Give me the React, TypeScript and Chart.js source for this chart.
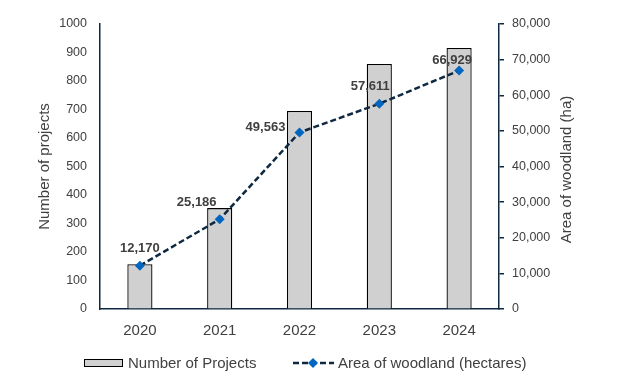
import React, { useEffect, useRef } from "react";
import { Chart, registerables } from "chart.js";

Chart.register(...registerables);

const years = ["2020", "2021", "2022", "2023", "2024"];
const projects = [157, 354, 695, 860, 916];
const woodland = [12170, 25186, 49563, 57611, 66929];
const projectTicks = { min: 0, max: 1000, step: 100 };
const woodlandTicks = { min: 0, max: 80000, step: 10000 };

const NAVY = "#0E2841";
const MARKER = "#0066C0";
const TEXT = "#404040";
const FONT = "'Liberation Sans', Arial, sans-serif";

const fmt = (v: number) => v.toLocaleString("en-US");

const labelOffsets = [
  [0, -17],
  [-23, -17],
  [-34, -5],
  [-9, -17],
  [-7, -10],
];

const decorPlugin = {
  id: "decor",
  afterDatasetsDraw(chart: any) {
    const ctx = chart.ctx;
    const meta = chart.getDatasetMeta(1);
    ctx.save();
    ctx.font = `bold 13px ${FONT}`;
    ctx.fillStyle = TEXT;
    ctx.textAlign = "center";
    ctx.textBaseline = "middle";
    meta.data.forEach((pt: any, i: number) => {
      const [dx, dy] = labelOffsets[i];
      ctx.fillText(fmt(woodland[i]), pt.x + dx, pt.y + dy);
    });
    ctx.restore();
  },
  afterDraw(chart: any) {
    const ctx = chart.ctx;
    const area = chart.chartArea;
    const cy = (area.top + area.bottom) / 2;
    ctx.save();
    ctx.font = `15px ${FONT}`;
    ctx.fillStyle = TEXT;
    ctx.textAlign = "center";
    ctx.textBaseline = "middle";
    ctx.save();
    ctx.translate(45, cy);
    ctx.rotate(-Math.PI / 2);
    ctx.fillText("Number of projects", 0, 0);
    ctx.restore();
    ctx.save();
    ctx.translate(567, cy + 3);
    ctx.rotate(-Math.PI / 2);
    ctx.fillText("Area of woodland (ha)", 0, 0);
    ctx.restore();

    const ly = 363;
    ctx.fillStyle = "#D0D0D0";
    ctx.fillRect(84, ly - 4, 39, 8);
    ctx.strokeStyle = "#000";
    ctx.lineWidth = 1;
    ctx.strokeRect(84.5, ly - 3.5, 38, 7);
    ctx.fillStyle = TEXT;
    ctx.textAlign = "left";
    ctx.fillText("Number of Projects", 128, ly + 1);

    ctx.strokeStyle = NAVY;
    ctx.lineWidth = 2.5;
    ctx.setLineDash([6, 3]);
    ctx.beginPath();
    ctx.moveTo(293, ly);
    ctx.lineTo(334, ly);
    ctx.stroke();
    ctx.setLineDash([]);
    ctx.fillStyle = MARKER;
    ctx.beginPath();
    ctx.moveTo(313, ly - 5);
    ctx.lineTo(318, ly);
    ctx.lineTo(313, ly + 5);
    ctx.lineTo(308, ly);
    ctx.closePath();
    ctx.fill();
    ctx.fillStyle = TEXT;
    ctx.fillText("Area of woodland (hectares)", 338, ly + 1);
    ctx.restore();
  },
};

export default function App() {
  const ref = useRef<HTMLCanvasElement | null>(null);
  useEffect(() => {
    if (!ref.current) return;
    const chart = new Chart(ref.current, {
      type: "bar",
      data: {
        labels: years,
        datasets: [
          {
            type: "bar",
            label: "Number of Projects",
            data: projects,
            yAxisID: "y",
            backgroundColor: "#D0D0D0",
            borderColor: "#000000",
            borderWidth: 1.3,
            barPercentage: 0.315,
            categoryPercentage: 1,
            order: 2,
          },
          {
            type: "line",
            label: "Area of woodland (hectares)",
            data: woodland,
            yAxisID: "y1",
            borderColor: NAVY,
            borderWidth: 2.5,
            borderDash: [6, 3],
            pointStyle: "rectRot",
            pointRadius: 5,
            pointBackgroundColor: MARKER,
            pointBorderColor: MARKER,
            pointBorderWidth: 0,
            tension: 0,
            order: 1,
          } as any,
        ],
      },
      options: {
        responsive: false,
        animation: false,
        layout: { padding: { top: 24, left: 0, right: 0, bottom: 0 } },
        plugins: { legend: { display: false }, tooltip: { enabled: false } },
        scales: {
          x: {
            offset: true,
            grid: { drawOnChartArea: false, drawTicks: false },
            border: { color: NAVY, width: 1.5 },
            ticks: { color: TEXT, font: { family: FONT, size: 15 }, padding: 13 },
            afterFit: (s: any) => { s.height = 81; },
          },
          y: {
            position: "left",
            min: projectTicks.min,
            max: projectTicks.max,
            grid: { drawOnChartArea: false, drawTicks: false },
            border: { color: NAVY, width: 1.5 },
            ticks: {
              stepSize: projectTicks.step,
              color: TEXT,
              font: { family: FONT, size: 12.5 },
              padding: 13,
              callback: (v: any) => String(v),
            },
            afterFit: (s: any) => { s.width = 100; },
          },
          y1: {
            position: "right",
            min: woodlandTicks.min,
            max: woodlandTicks.max,
            grid: { drawOnChartArea: false, drawTicks: true, tickLength: 5, color: NAVY, lineWidth: 1.5 },
            border: { color: NAVY, width: 1.5 },
            ticks: {
              stepSize: woodlandTicks.step,
              color: TEXT,
              font: { family: FONT, size: 12.5 },
              padding: 8,
              callback: (v: any) => fmt(Number(v)),
            },
            afterFit: (s: any) => { s.width = 125; },
          },
        },
      },
      plugins: [decorPlugin],
    });
    return () => chart.destroy();
  }, []);
  return (
    <div style={{ position: "fixed", left: 0, top: 0, width: 624, height: 390, background: "#fff" }}>
      <canvas ref={ref} width={624} height={390} />
    </div>
  );
}
